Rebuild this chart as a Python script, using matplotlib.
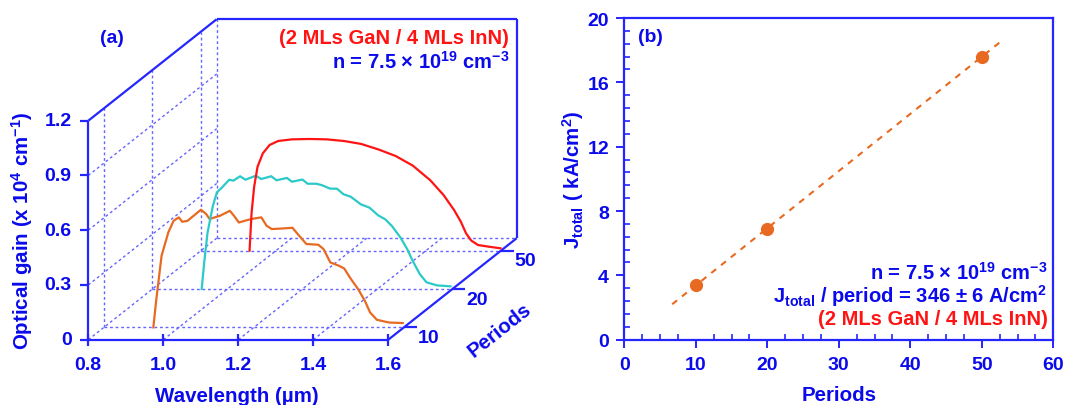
import numpy as np
import matplotlib
matplotlib.use("Agg")
import matplotlib.pyplot as plt
from matplotlib.ticker import MultipleLocator

plt.rcParams['font.family'] = ['Liberation Sans', 'DejaVu Sans']
plt.rcParams['font.weight'] = 'bold'
plt.rcParams['mathtext.fontset'] = 'custom'
plt.rcParams['mathtext.rm'] = 'Liberation Sans:bold'
plt.rcParams['mathtext.bf'] = 'Liberation Sans:bold'
plt.rcParams['mathtext.it'] = 'Liberation Sans:bold'
plt.rcParams['mathtext.sf'] = 'Liberation Sans:bold'
plt.rcParams['mathtext.default'] = 'bf'

# ---------------- data ----------------
period_labels = ["10", "20", "50"]
period_pos = [1, 2, 3]

wl_10 = [0.932, 0.940, 0.954, 0.972, 0.986, 1.000, 1.009, 1.023, 1.059, 1.073, 1.082, 1.110,
         1.136, 1.147, 1.160, 1.193, 1.220, 1.234, 1.248, 1.275, 1.303, 1.321, 1.340, 1.372,
         1.386, 1.404, 1.427, 1.441, 1.459, 1.478, 1.496, 1.510, 1.528, 1.560, 1.597]
gain_10 = [0.000, 0.155, 0.393, 0.521, 0.584, 0.603, 0.579, 0.584, 0.645, 0.621, 0.594, 0.612,
           0.639, 0.612, 0.575, 0.594, 0.603, 0.557, 0.539, 0.542, 0.546, 0.502, 0.457, 0.453,
           0.429, 0.356, 0.338, 0.323, 0.265, 0.210, 0.146, 0.082, 0.042, 0.027, 0.024]

wl_20 = [0.9315, 0.938, 0.947, 0.961, 0.972, 0.984, 1.005, 1.016, 1.034, 1.048, 1.076, 1.090,
         1.117, 1.131, 1.159, 1.172, 1.200, 1.214, 1.237, 1.251, 1.274, 1.292, 1.310, 1.329,
         1.356, 1.379, 1.402, 1.421, 1.439, 1.462, 1.480, 1.494, 1.513, 1.531, 1.559, 1.595]
gain_20 = [0.000, 0.142, 0.307, 0.453, 0.530, 0.553, 0.599, 0.594, 0.618, 0.599, 0.621, 0.603,
           0.618, 0.596, 0.609, 0.588, 0.600, 0.577, 0.577, 0.570, 0.550, 0.550, 0.519, 0.506,
           0.464, 0.446, 0.404, 0.382, 0.345, 0.281, 0.217, 0.155, 0.082, 0.037, 0.020, 0.015]

wl_50 = [0.9297, 0.935, 0.942, 0.951, 0.965, 0.983, 1.006, 1.043, 1.089, 1.135, 1.181, 1.227,
         1.273, 1.319, 1.365, 1.411, 1.447, 1.475, 1.493, 1.507, 1.521, 1.539, 1.567, 1.599]
gain_50 = [0.000, 0.205, 0.351, 0.460, 0.533, 0.579, 0.601, 0.610, 0.612, 0.610, 0.601, 0.585,
           0.555, 0.519, 0.466, 0.387, 0.305, 0.223, 0.159, 0.095, 0.055, 0.031, 0.022, 0.013]

wl_ticks = [0.8, 1.0, 1.2, 1.4, 1.6]
gain_ticks = [0, 0.3, 0.6, 0.9, 1.2]

j_periods = [10, 20, 50]
j_total = [3.4, 6.9, 17.6]

# ---------------- style ----------------
AXC = '#2525FF'
TXT = '#0A0AEB'
GRID = '#6464FF'
RED = '#FF1414'
ORANGE = '#E86A22'
CYAN = '#2CC9C9'
curve_colors = [ORANGE, CYAN, RED]
FS_TICK = 14
FS_LAB = 14.8
FS_ANN = 14.5

W, H = 1065, 406
fig = plt.figure(figsize=(W / 100, H / 100), dpi=100)

# ---------------- panel (a): oblique 3D ----------------
px_per_um = 375.0
px_per_gain = 182.5
x0_px, y0_px = 88.3, 340.7
box_w_px, box_h_px = 428.4, 320.5
ax1 = fig.add_axes([x0_px / W, (H - y0_px) / H, box_w_px / W, box_h_px / H])
ax1.set_xlim(0.8, 0.8 + box_w_px / px_per_um)
ax1.set_ylim(0, box_h_px / px_per_gain)
ax1.axis('off')

DX = 128.4 / px_per_um
DY = 101.5 / px_per_gain
depth_lim = (0.68, 3.325)

def frac(p):
    return (p - depth_lim[0]) / (depth_lim[1] - depth_lim[0])

def proj(x, y, f):
    x = np.asarray(x, float)
    y = np.asarray(y, float)
    return x + f * DX, y + f * DY

xmin, xmax = wl_ticks[0], wl_ticks[-1]
ymin, ymax = gain_ticks[0], gain_ticks[-1]
solid = dict(color=AXC, lw=1.6, clip_on=False, solid_capstyle='butt')
dot = dict(color=GRID, lw=1.0, ls=(0, (2, 2)), clip_on=False)

def seg(x1, y1, f1, x2, y2, f2, **kw):
    a = proj(x1, y1, f1)
    b = proj(x2, y2, f2)
    ax1.plot([a[0], b[0]], [a[1], b[1]], **kw)

# dotted grid
seg(xmin, ymin, 1, xmax, ymin, 1, **dot)
seg(xmin, ymin, 1, xmin, ymax, 1, **dot)
for g in gain_ticks[:-1]:
    seg(xmin, g, 0, xmin, g, 1, **dot)
for w in wl_ticks[1:-1]:
    seg(w, ymin, 0, w, ymin, 1, **dot)
for p in period_pos:
    f = frac(p)
    seg(xmin, ymin, f, xmax, ymin, f, **dot)
    seg(xmin, ymin, f, xmin, ymax, f, **dot)

# solid box edges
seg(xmin, ymin, 0, xmin, ymax, 0, **solid)
seg(xmin, ymin, 0, xmax, ymin, 0, **solid)
seg(xmax, ymin, 0, xmax, ymin, 1, **solid)
seg(xmin, ymax, 0, xmin, ymax, 1, **solid)
seg(xmin, ymax, 1, xmax, ymax, 1, **solid)
seg(xmax, ymin, 1, xmax, ymax, 1, **solid)

# ticks and labels
tk = 8 / px_per_um
for g in gain_ticks:
    ax1.plot([xmin - tk, xmin], [g, g], **solid)
    ax1.text(xmin - 16.6 / px_per_um, g, f"{g:g}" if g == 0 else f"{g:.1f}",
             ha='right', va='center', fontsize=FS_TICK, color=TXT, fontweight='bold', clip_on=False)
for w in wl_ticks:
    ax1.plot([w, w], [-6 / px_per_gain, 6 / px_per_gain], **solid)
    ax1.text(w, -24.8 / px_per_gain, f"{w:.1f}", ha='center', va='center',
             fontsize=FS_TICK, color=TXT, fontweight='bold', clip_on=False)
for p, lab in zip(period_pos, period_labels):
    bx, by = proj(xmax, ymin, frac(p))
    ax1.plot([bx, bx + 13 / px_per_um], [by, by], **solid)
    ax1.text(bx + 24.3 / px_per_um, by - 10 / px_per_gain, lab, ha='center', va='center',
             fontsize=FS_TICK, color=TXT, fontweight='bold', clip_on=False)

# curves
for wl, gn, p, c in zip([wl_10, wl_20, wl_50], [gain_10, gain_20, gain_50], period_pos, curve_colors):
    X, Y = proj(wl, gn, frac(p))
    ax1.plot(X, Y, color=c, lw=1.6, clip_on=False)

def px2d(px, py):
    return 0.8 + (px - x0_px) / px_per_um, (y0_px - py) / px_per_gain

ax1.text(*px2d(21.8, 231), "Optical gain (x 10$^{4}$ cm$^{-1}$)", rotation=90,
         ha='center', va='center', fontsize=FS_LAB, color=TXT, fontweight='bold')
ax1.text(*px2d(237.3, 397), "Wavelength (µm)", ha='center', va='center',
         fontsize=FS_LAB, color=TXT, fontweight='bold')
ax1.text(*px2d(500, 330), "Periods", rotation=np.degrees(np.arctan2(101.5, 128.4)),
         ha='center', va='center', fontsize=FS_LAB, color=TXT, fontweight='bold',
         rotation_mode='anchor')
ax1.text(*px2d(112, 38), "(a)", ha='center', va='center', fontsize=FS_TICK, color=TXT, fontweight='bold')
ax1.text(*px2d(509, 38.3), "(2 MLs GaN / 4 MLs InN)", ha='right', va='center',
         fontsize=FS_ANN, color=RED, fontweight='bold')
ax1.text(*px2d(509, 61.7), "n = 7.5 × 10$^{19}$ cm$^{-3}$", ha='right', va='center',
         fontsize=FS_ANN, color=TXT, fontweight='bold')

# ---------------- panel (b) ----------------
ax2 = fig.add_axes([624.3 / W, (H - 340.7) / H, 429 / W, 321.7 / H])
ax2.set_xlim(0, 60)
ax2.set_ylim(0, 20)
for s in ax2.spines.values():
    s.set_color(AXC)
    s.set_linewidth(1.6)
ax2.xaxis.set_major_locator(MultipleLocator(10))
ax2.xaxis.set_minor_locator(MultipleLocator(2.5))
ax2.yaxis.set_major_locator(MultipleLocator(4))
ax2.yaxis.set_minor_locator(MultipleLocator(0.8))
ax2.tick_params(which='major', direction='out', length=6, width=1.4, color=AXC,
                labelcolor=TXT, labelsize=FS_TICK, pad=5)
ax2.tick_params(which='minor', direction='in', length=4, width=1.2, color=AXC)
ax2.tick_params(axis='x', which='major', pad=6)
for lab in ax2.get_xticklabels() + ax2.get_yticklabels():
    lab.set_fontweight('bold')

slope, intercept = np.polyfit(j_periods, j_total, 1)
fit_x = np.array([6.7, 52.7])
ax2.plot(fit_x, slope * fit_x + intercept, color=ORANGE, lw=1.5, ls=(0, (3, 3)))
ax2.plot(j_periods, j_total, 'o', color=ORANGE, ms=8.5, mec=ORANGE)

ax2.text(-0.119, 0.5, "J$_{total}$ ( kA/cm$^{2}$)", transform=ax2.transAxes, rotation=90,
         ha='center', va='center', fontsize=FS_LAB, color=TXT, fontweight='bold')
ax2.text(0.5, -0.17, "Periods", transform=ax2.transAxes, ha='center', va='center',
         fontsize=FS_LAB, color=TXT, fontweight='bold')
ax2.text(3.64, 18.82, "(b)", ha='center', va='center', fontsize=FS_TICK, color=TXT, fontweight='bold')
ax2.text(59.2, 4.22, "n = 7.5 × 10$^{19}$ cm$^{-3}$", ha='right', va='center',
         fontsize=FS_ANN, color=TXT, fontweight='bold')
ax2.text(59.2, 2.75, "J$_{total}$ / period = 346 ± 6 A/cm$^{2}$", ha='right', va='center',
         fontsize=FS_ANN, color=TXT, fontweight='bold')
ax2.text(59.2, 1.30, "(2 MLs GaN / 4 MLs InN)", ha='right', va='center',
         fontsize=FS_ANN, color=RED, fontweight='bold')

fig.savefig("out.png", dpi=100)
